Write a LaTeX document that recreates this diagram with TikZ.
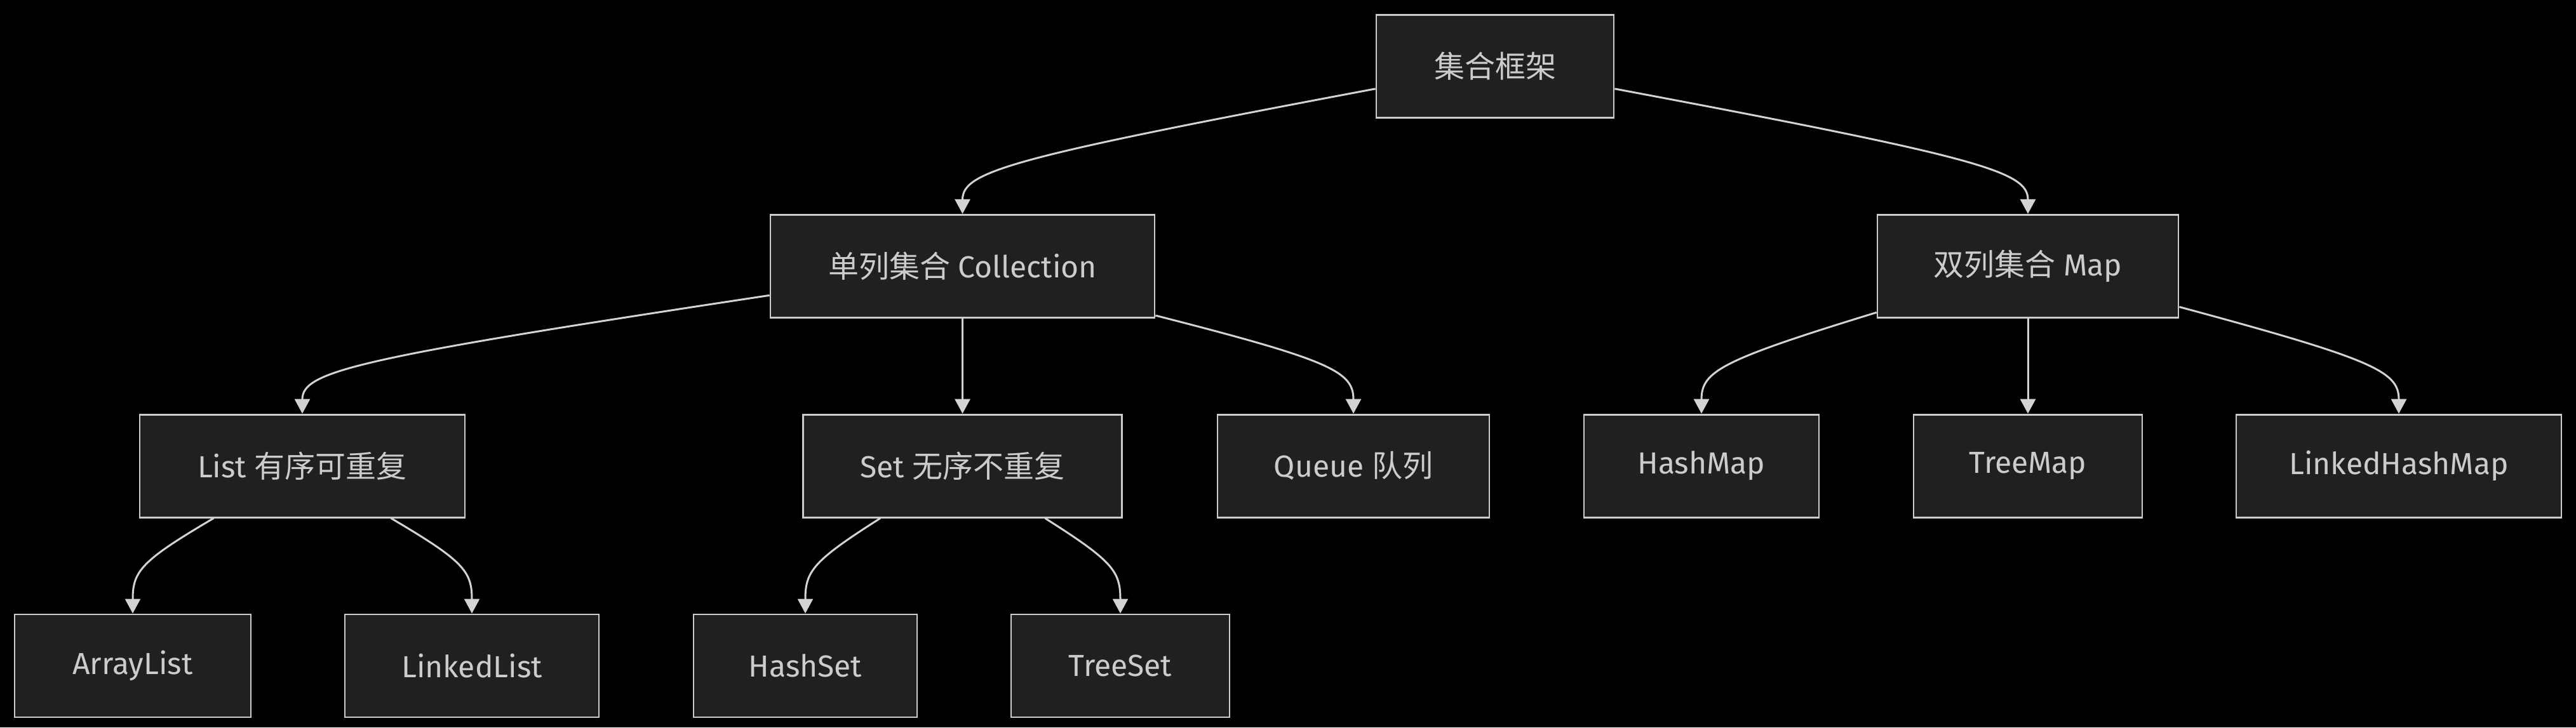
\documentclass[tikz,border=0pt]{standalone}
\usepackage{fontspec}
\setmainfont{Fira Sans}
\newfontfamily\cjk{Noto Sans CJK SC}
\usetikzlibrary{arrows.meta, positioning, calc}
\definecolor{canvas}{HTML}{000000}
\definecolor{nodefill}{HTML}{1F2020}
\definecolor{nodeline}{HTML}{CCCCCC}
\definecolor{ink}{HTML}{CCCCCC}
\definecolor{wire}{HTML}{D3D3D3}
\newcommand{\zh}[1]{{\cjk #1}}

\begin{document}
\begin{tikzpicture}[
  node distance=37.5pt,
  box/.style={draw=nodeline, fill=nodefill, line width=0.7pt, text=ink,
              font=\fontsize{12}{14}\selectfont, inner sep=0pt,
              minimum height=40.5pt},
  arr/.style={-{Triangle[length=5.75pt, width=6pt]}, line width=0.75pt, draw=wire}
]

\path[fill=canvas, use as bounding box] (0,0) rectangle (1014pt,-286.5pt);

% root and the two families
\node[box, minimum width=93.5pt] (root) at (588.5pt,-26.125pt) {\zh{集合框架}};
\node[box, minimum width=151.25pt, below=of root, xshift=-209.625pt] (coll) {\zh{单列集合} Collection};
\node[box, minimum width=118.5pt, below=of root, xshift=209.75pt] (map) {\zh{双列集合} Map};

% Collection branch
\node[box, minimum width=128pt, below=of coll, xshift=-259.875pt] (list) {List \zh{有序可重复}};
\node[box, minimum width=125.5pt, below=of coll] (set) {Set \zh{无序不重复}};
\node[box, minimum width=107pt, below=of coll, xshift=153.875pt] (queue) {Queue \zh{队列}};

% Map branch
\node[box, minimum width=92.5pt, below=of map, xshift=-128.5pt] (hashmap) {HashMap};
\node[box, minimum width=90pt, below=of map] (treemap) {TreeMap};
\node[box, minimum width=128pt, below=of map, xshift=146pt] (lhm) {LinkedHashMap};

% leaves
\node[box, minimum width=93pt, below=of list, xshift=-66.75pt] (arraylist) {ArrayList};
\node[box, minimum width=100pt, below=of list, xshift=66.75pt] (linkedlist) {LinkedList};
\node[box, minimum width=88pt, below=of set, xshift=-61.875pt] (hashset) {HashSet};
\node[box, minimum width=86pt, below=of set, xshift=62.125pt] (treeset) {TreeSet};

% edges
\draw[arr] (root) .. controls ($(root)!0.91!(coll.north)+(0,17pt)$) and ($(coll.north)+(0,16.7pt)$) .. (coll.north);
\draw[arr] (root) .. controls ($(root)!0.91!(map.north)+(0,17pt)$) and ($(map.north)+(0,16.7pt)$) .. (map.north);
\draw[arr] (coll) .. controls ($(coll)!0.92!(list.north)+(0,17.25pt)$) and ($(list.north)+(0,16.7pt)$) .. (list.north);
\draw[arr] (coll) -- (set);
\draw[arr] (coll) .. controls ($(coll)!0.94!(queue.north)+(0,17.6pt)$) and ($(queue.north)+(0,16.7pt)$) .. (queue.north);
\draw[arr] (map) .. controls ($(map)!0.94!(hashmap.north)+(0,17.6pt)$) and ($(hashmap.north)+(0,16.7pt)$) .. (hashmap.north);
\draw[arr] (map) -- (treemap);
\draw[arr] (map) .. controls ($(map)!0.93!(lhm.north)+(0,17.4pt)$) and ($(lhm.north)+(0,16.7pt)$) .. (lhm.north);
\draw[arr] (list) .. controls ($(list)!0.95!(arraylist.north)+(0,17.8pt)$) and ($(arraylist.north)+(0,16.7pt)$) .. (arraylist.north);
\draw[arr] (list) .. controls ($(list)!0.95!(linkedlist.north)+(0,17.8pt)$) and ($(linkedlist.north)+(0,16.7pt)$) .. (linkedlist.north);
\draw[arr] (set) .. controls ($(set)!0.95!(hashset.north)+(0,17.8pt)$) and ($(hashset.north)+(0,16.7pt)$) .. (hashset.north);
\draw[arr] (set) .. controls ($(set)!0.95!(treeset.north)+(0,17.8pt)$) and ($(treeset.north)+(0,16.7pt)$) .. (treeset.north);

\end{tikzpicture}
\end{document}
